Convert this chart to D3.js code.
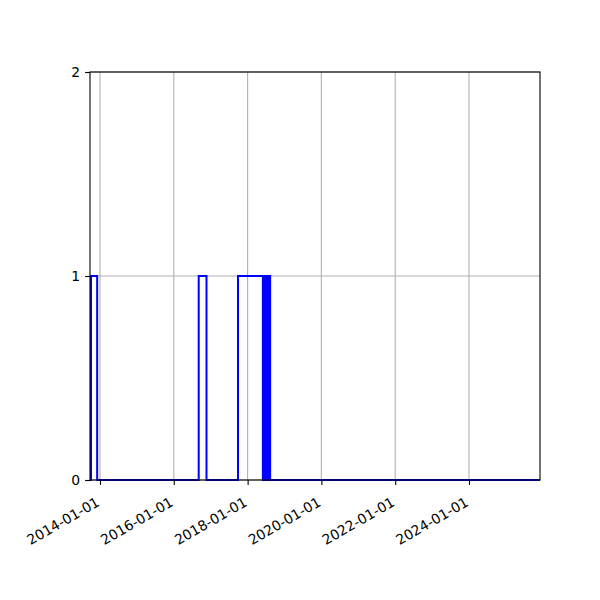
<!DOCTYPE html>
<html>
<head>
<meta charset="utf-8">
<script src="https://cdn.jsdelivr.net/npm/d3@7"></script>
<style>
  body { margin: 0; background: #fff; }
  text { font-family: "DejaVu Sans", sans-serif; }
</style>
</head>
<body>
<div id="chart"></div>
<script>
(function () {
  // dates where the state changes, and the state from that date on
  const changeDates = [
    "2013-10-04", "2013-12-04",
    "2016-09-04", "2016-11-20",
    "2017-09-28",
    "2018-06-01", "2018-06-04", "2018-06-08", "2018-06-11", "2018-06-15", "2018-06-18",
    "2018-06-22", "2018-06-25", "2018-06-29", "2018-07-02", "2018-07-06", "2018-07-09",
    "2018-07-13", "2018-07-16", "2018-07-20", "2018-07-24",
    "2018-08-12",
    "2025-12-04"
  ];
  const states = [
    1, 0,
    1, 0,
    1,
    0, 1, 0, 1, 0, 1,
    0, 1, 0, 1, 0, 1,
    0, 1, 0, 1,
    0,
    0
  ];
  const xTickDates = ["2014-01-01", "2016-01-01", "2018-01-01", "2020-01-01", "2022-01-01", "2024-01-01"];
  const yTicks = [0, 1, 2];
  const xStart = "2013-09-24";
  const xEnd = "2025-12-04";

  const parse = d3.utcParse("%Y-%m-%d");
  const fmt = d3.utcFormat("%Y-%m-%d");

  const width = 600, height = 600;
  const margin = { left: 90, right: 60, top: 72, bottom: 120 };
  const plotW = width - margin.left - margin.right;
  const plotH = height - margin.top - margin.bottom;

  const points = [{ date: parse(xStart), value: 0 }].concat(
    changeDates.map(function (d, i) { return { date: parse(d), value: states[i] }; })
  );

  const x = d3.scaleUtc()
    .domain([parse(xStart), parse(xEnd)])
    .range([0, plotW]);

  const y = d3.scaleLinear()
    .domain([0, 2])
    .range([plotH, 0]);

  const svg = d3.select("#chart").append("svg")
    .attr("width", width)
    .attr("height", height);

  const g = svg.append("g")
    .attr("transform", `translate(${margin.left},${margin.top})`);

  // grid
  g.append("g")
    .selectAll("line")
    .data(xTickDates.map(parse))
    .join("line")
      .attr("x1", d => x(d)).attr("x2", d => x(d))
      .attr("y1", 0).attr("y2", plotH)
      .attr("stroke", "#b0b0b0")
      .attr("stroke-width", 1.1);

  g.append("g")
    .selectAll("line")
    .data(yTicks)
    .join("line")
      .attr("x1", 0).attr("x2", plotW)
      .attr("y1", d => y(d)).attr("y2", d => y(d))
      .attr("stroke", "#b0b0b0")
      .attr("stroke-width", 1.1);

  // step line
  const line = d3.line()
    .x(d => x(d.date))
    .y(d => y(d.value))
    .curve(d3.curveStepAfter);

  g.append("path")
    .datum(points)
    .attr("d", line)
    .attr("fill", "none")
    .attr("stroke", "#0000ff")
    .attr("stroke-width", 2);

  // axes
  const xAxis = g.append("g")
    .attr("transform", `translate(0,${plotH})`)
    .call(d3.axisBottom(x)
      .tickValues(xTickDates.map(parse))
      .tickFormat(fmt)
      .tickSize(4.9));

  // matplotlib-style rotated labels: right end hangs under the tick
  xAxis.selectAll(".tick text")
    .attr("font-size", "13.9px")
    .attr("fill", "#000")
    .attr("text-anchor", "end")
    .attr("x", 0)
    .attr("y", 0)
    .attr("dy", 0)
    .attr("transform", "translate(0,25) rotate(-30)");

  const yAxis = g.append("g")
    .call(d3.axisLeft(y)
      .tickValues(yTicks)
      .tickFormat(d3.format("d"))
      .tickSize(4.9)
      .tickPadding(4.9));

  yAxis.selectAll("text")
    .attr("font-size", "13.9px")
    .attr("fill", "#000");

  [xAxis, yAxis].forEach(function (a) {
    a.select(".domain").remove();
    a.selectAll(".tick line").attr("stroke", "#000").attr("stroke-width", 1.1);
  });

  // frame
  g.append("rect")
    .attr("width", plotW)
    .attr("height", plotH)
    .attr("fill", "none")
    .attr("stroke", "#000")
    .attr("stroke-width", 1.1);
})();
</script>
</body>
</html>
